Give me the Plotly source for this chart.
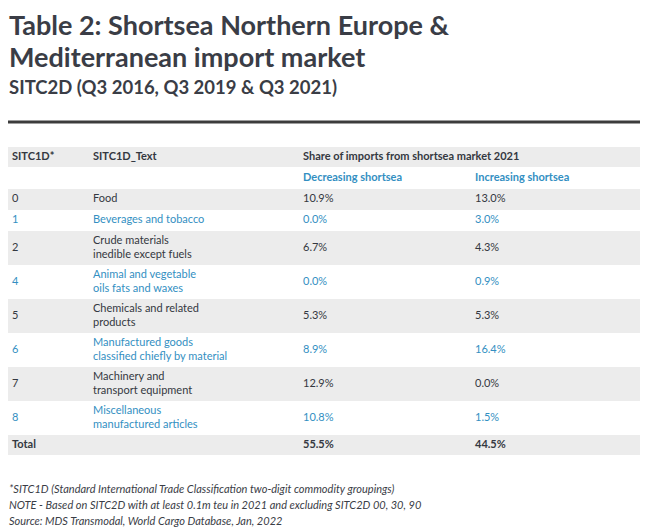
import plotly.graph_objects as go

codes = ["0", "1", "2", "4", "5", "6", "7", "8", "Total"]
labels = [
    "Food",
    "Beverages and tobacco",
    "Crude materials<br>inedible except fuels",
    "Animal and vegetable<br>oils fats and waxes",
    "Chemicals and related<br>products",
    "Manufactured goods<br>classified chiefly by material",
    "Machinery and<br>transport equipment",
    "Miscellaneous<br>manufactured articles",
    "",
]
decreasing = [10.9, 0.0, 6.7, 0.0, 5.3, 8.9, 12.9, 10.8, 55.5]
increasing = [13.0, 3.0, 4.3, 0.9, 5.3, 16.4, 0.0, 1.5, 44.5]

header_top = ["SITC1D*", "SITC1D_Text", "Share of imports from shortsea market 2021", ""]
header_sub = ["", "", "Decreasing shortsea", "Increasing shortsea"]

title_lines = ["Table 2: Shortsea Northern Europe &", "Mediterranean import market"]
subtitle = "SITC2D (Q3 2016, Q3 2019 & Q3 2021)"
notes = [
    "*SITC1D (Standard International Trade Classification two-digit commodity groupings)",
    "NOTE - Based on SITC2D with at least 0.1m teu in 2021 and excluding SITC2D 00, 30, 90",
    "Source: MDS Transmodal, World Cargo Database, Jan, 2022",
]

W, H = 648, 530
OFF = 8  # page body margin, the axes below are in window pixels
GREY = "#ececec"
BLUE = "#338fc2"
DARK = "#343841"
TITLE_C = "#3a3d46"
FONT = "Lato"
FS = 11
TITLE_FS = 27

# layout of the table (pixels)
TABLE_L, TABLE_R, TABLE_TOP = 8, 640, 147
COL_X = [12, 93, 303, 475]
HEADER_H = [20, 22]
ROW_H = {1: 21, 2: 34}

# build rows: two header rows + body
row_h = HEADER_H + [ROW_H[len(lab.split("<br>"))] for lab in labels]
row_h[-1] = 20
centers, y = [], TABLE_TOP
for h in row_h:
    centers.append(y + h / 2)
    y += h

n_body = len(codes)
fills = [GREY, "white"] + [GREY if i % 2 == 0 else "white" for i in range(n_body)]
colors = [DARK, BLUE] + [DARK if i % 2 == 0 else BLUE for i in range(n_body)]
colors[-1] = DARK


def bold(s):
    return f"<b>{s}</b>" if s else ""


def pct(v):
    return f"{v:.1f}%"


body_cols = [
    codes,
    labels,
    [pct(v) for v in decreasing],
    [pct(v) for v in increasing],
]
columns = []
for c in range(4):
    col = [bold(header_top[c]), bold(header_sub[c])]
    for i, v in enumerate(body_cols[c]):
        col.append(bold(v) if codes[i] == "Total" else v)
    columns.append(col)

fig = go.Figure()
fig.add_trace(go.Bar(
    orientation="h",
    y=centers,
    x=[TABLE_R - TABLE_L] * len(centers),
    base=TABLE_L,
    width=row_h,
    marker=dict(color=fills, line=dict(width=0)),
    hoverinfo="skip",
    showlegend=False,
))
for c in range(4):
    fig.add_trace(go.Scatter(
        x=[COL_X[c]] * len(centers),
        y=centers,
        mode="text",
        text=columns[c],
        textposition="middle right",
        textfont=dict(family=FONT, size=FS, color=colors),
        hoverinfo="skip",
        showlegend=False,
        cliponaxis=False,
    ))

# annotation anchors must stay inside the axis ranges, so x=8 with a shift
for i, line in enumerate(title_lines):
    fig.add_annotation(
        x=TABLE_L, y=35 + 32 * i, xref="x", yref="y",
        xanchor="left", yanchor="bottom", xshift=-1, yshift=-0.29 * TITLE_FS,
        text=f"<b>{line}</b>", showarrow=False, align="left",
        font=dict(family=FONT, size=TITLE_FS, color=TITLE_C),
    )
fig.add_annotation(
    x=TABLE_L, y=94, xref="x", yref="y",
    xanchor="left", yanchor="bottom", xshift=-1, yshift=-6,
    text=f"<b>{subtitle}</b>", showarrow=False, align="left",
    font=dict(family=FONT, size=18.5, color=TITLE_C),
)
fig.add_shape(
    type="line", xref="x", yref="y",
    x0=TABLE_L, x1=TABLE_R, y0=122, y1=122,
    line=dict(color="#3c3c3c", width=3),
)
for i, t in enumerate(notes):
    fig.add_annotation(
        x=TABLE_L, y=488 + 16 * i, xref="x", yref="y",
        xanchor="left", yanchor="middle", xshift=-1,
        text=f"<i>{t}</i>", showarrow=False, align="left",
        font=dict(family=FONT, size=11, color=TITLE_C),
    )

fig.update_layout(
    width=W - OFF, height=H - OFF,
    margin=dict(l=0, r=0, t=0, b=0),
    paper_bgcolor="white",
    plot_bgcolor="white",
    bargap=0,
    xaxis=dict(range=[OFF, W], domain=[0, 1], visible=False, fixedrange=True),
    yaxis=dict(range=[H, OFF], domain=[0, 1], visible=False, fixedrange=True),
)
fig.write_html("out.html")
